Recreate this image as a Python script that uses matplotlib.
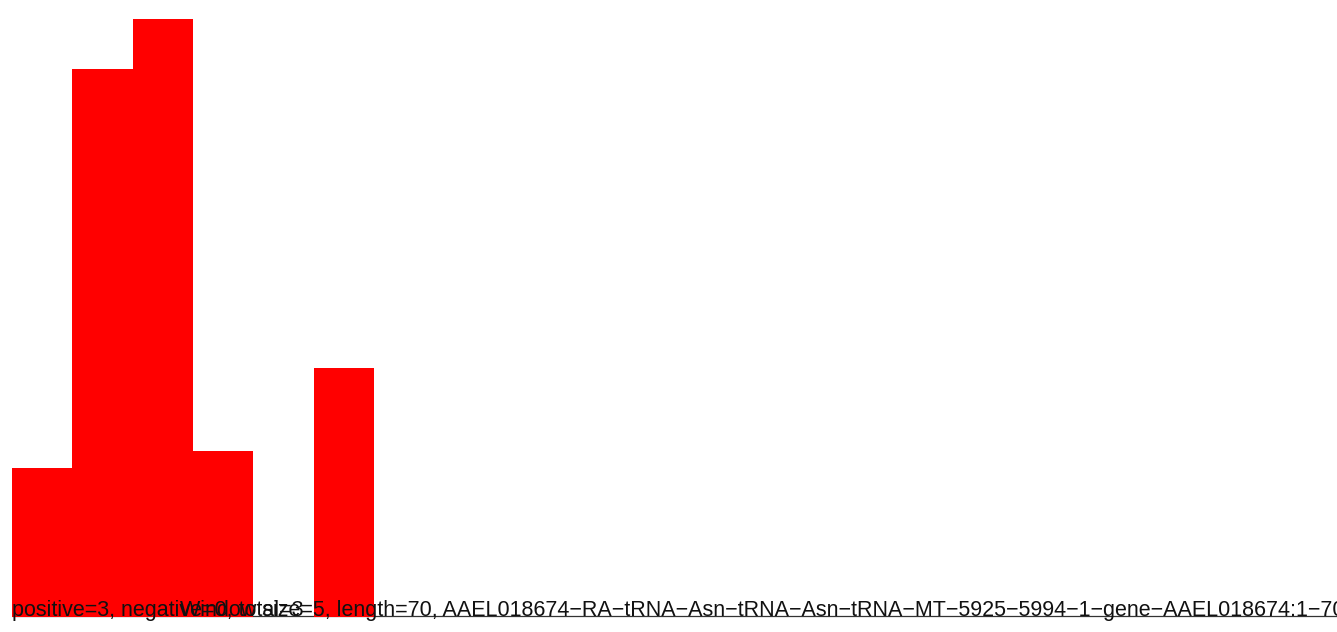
import matplotlib
matplotlib.use("Agg")
import matplotlib.pyplot as plt

# window index and count per window
windows = [0, 1, 2, 3, 4, 5]
counts = [36, 132, 144, 40, 0, 60]

summary_label = "positive=3, negative=0, total=3"
title_label = ("Window size=5, length=70, AAEL018674\u2212RA\u2212tRNA\u2212Asn\u2212tRNA\u2212Asn"
               "\u2212tRNA\u2212MT\u22125925\u22125994\u22121\u2212gene\u2212AAEL018674:1\u221270")

W, H = 1337, 632
px_per_bar = 60.33
px_per_unit = 598 / 144


def main() -> None:
    plt.rcParams["font.family"] = ["Liberation Sans", "DejaVu Sans"]
    fig = plt.figure(figsize=(W / 100, H / 100), dpi=100)
    ax = fig.add_axes([0, 0, 1, 1])
    ax.axis("off")

    x_right = (W - 12) / px_per_bar
    ax.hlines(0.36, 0, x_right + 1, color="#333333", linewidth=0.9, zorder=1)
    ax.bar(windows, counts, width=1.0, align="edge", color="#ff0000",
           linewidth=0, zorder=2)

    ax.set_xlim(-12 / px_per_bar, x_right)
    ax.set_ylim(-(H - 617) / px_per_unit, 144 + 19 / px_per_unit)

    fs = 15.5
    ax.text(0, 0.2, summary_label, fontsize=fs, color="#111111",
            ha="left", va="baseline", zorder=3)
    ax.text((180 - 12) / px_per_bar, 0.2, title_label, fontsize=fs,
            color="#111111", ha="left", va="baseline", zorder=3)

    fig.savefig("out.png", dpi=100)


if __name__ == "__main__":
    main()
